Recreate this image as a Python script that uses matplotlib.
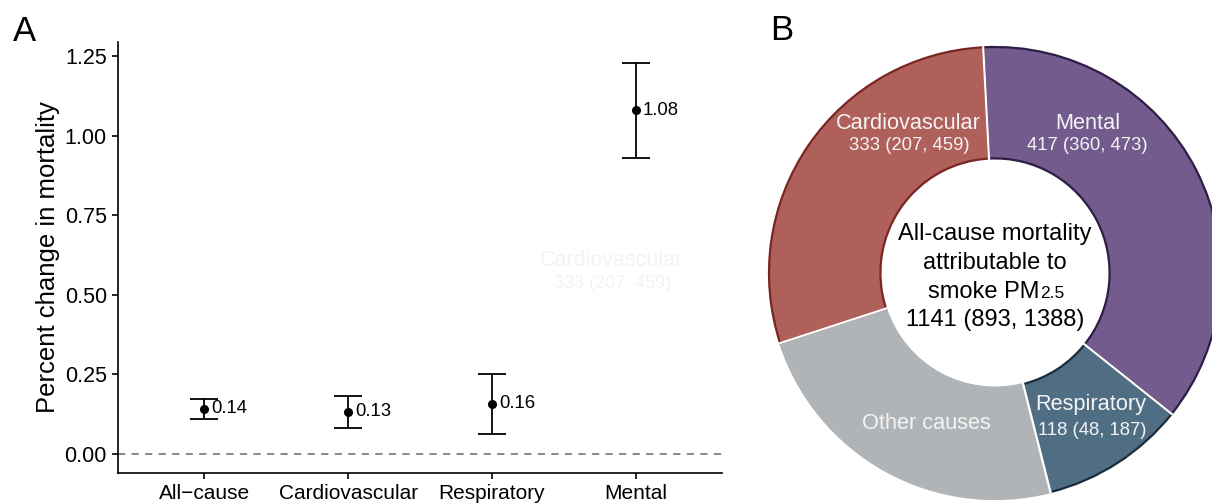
import numpy as np
import matplotlib
matplotlib.use("Agg")
import matplotlib.pyplot as plt

plt.rcParams['font.family'] = ['Liberation Sans', 'DejaVu Sans']

# panel A: percent change in mortality
causes = ['All\u2212cause', 'Cardiovascular', 'Respiratory', 'Mental']
est = np.array([0.142, 0.132, 0.157, 1.079])
lo = np.array([0.109, 0.080, 0.064, 0.931])
hi = np.array([0.171, 0.181, 0.251, 1.229])

# panel B: attributable deaths
slice_names = ['Mental', 'Respiratory', 'Other causes', 'Cardiovascular']
slice_vals = [417, 118, 273, 333]
slice_ci = ['417 (360, 473)', '118 (48, 187)', '', '333 (207, 459)']
total_label = '1141 (893, 1388)'

fig = plt.figure(figsize=(12.12, 5.04), dpi=100)

# ---- A
ax = fig.add_axes([118 / 1212, 31 / 504, 604 / 1212, 431 / 504])
xs = np.arange(1, len(causes) + 1)
ax.axhline(0, color='#808080', lw=1.3, ls=(0, (4, 3.5)), zorder=1)
ax.errorbar(xs, est, yerr=[est - lo, hi - est], fmt='o', color='black',
            ms=5.5, capsize=10, elinewidth=1.3, capthick=1.3, zorder=3)
for x, v in zip(xs, est):
    ax.text(x + 0.05, v, f'{v:.2f}', ha='left', va='center', fontsize=13.3)
ax.set_xlim(0.4, 4.6)
ax.set_ylim(-0.06, 1.294)
ax.set_xticks(xs)
ax.set_xticklabels(causes, fontsize=15)
ax.set_yticks([0, 0.25, 0.5, 0.75, 1.0, 1.25])
ax.set_yticklabels([f'{t:.2f}' for t in [0, 0.25, 0.5, 0.75, 1.0, 1.25]], fontsize=15.5)
ax.set_ylabel('Percent change in mortality', fontsize=18.5, labelpad=3)
ax.spines['top'].set_visible(False)
ax.spines['right'].set_visible(False)
for s in ['left', 'bottom']:
    ax.spines[s].set_linewidth(1.2)
ax.tick_params(length=4, width=1.2, pad=4)
fig.text(13 / 1212, 1 - 41 / 504, 'A', fontsize=25, va='baseline', ha='left')

# faint ghost label left over in the original figure
fig.text(612 / 1212, 1 - 260 / 504, 'Cardiovascular', fontsize=15.5, color='#f3f3f3',
         ha='center', va='center')
fig.text(613 / 1212, 1 - 283 / 504, '333 (207, 459)', fontsize=13, color='#f3f3f3',
         ha='center', va='center')

# ---- B
ax2 = fig.add_axes([765 / 1212, 1 / 504, 460 / 1212, 460 / 504])
face = ['#735B8D', '#4F6E84', '#B1B4B7', '#B0605A']
edge = ['#2E1D45', '#1B2D3C', '#B1B4B7', '#7B2522']
start = 93
wedges, _ = ax2.pie(slice_vals, startangle=start, counterclock=False, colors=face,
                    radius=1, wedgeprops=dict(width=0.493, linewidth=1.6))
for w, ec in zip(wedges, edge):
    w.set_edgecolor(ec)
# white separators between slices
bounds = start - 360 * np.cumsum([0] + slice_vals[:-1]) / np.sum(slice_vals)
for a in bounds:
    r = np.array([0.5, 1.005])
    ax2.plot(r * np.cos(np.radians(a)), r * np.sin(np.radians(a)), color='white', lw=1.6,
             solid_capstyle='butt', zorder=5)
lim = 230 / 226
ax2.set_xlim(-lim, lim)
ax2.set_ylim(-lim, lim)
ax2.set_aspect('equal')
ax2.axis('off')

label_pos = {'Mental': (0.41, 0.661, 0.407, 0.562),
             'Respiratory': (0.425, -0.584, 0.429, -0.695),
             'Other causes': (-0.305, -0.664, 0, 0),
             'Cardiovascular': (-0.385, 0.661, -0.381, 0.562)}
for name, ci in zip(slice_names, slice_ci):
    mx, my, sx, sy = label_pos[name]
    ax2.text(mx, my, name, ha='center', va='center', fontsize=15.7, color='#f4f4f4', zorder=6)
    if ci:
        ax2.text(sx, sy, ci, ha='center', va='center', fontsize=13.3, color='#f4f4f4', zorder=6)

ax2.text(0, 0.173, 'All-cause mortality', ha='center', va='center', fontsize=17)
ax2.text(0, 0.044, 'attributable to', ha='center', va='center', fontsize=17)
t = ax2.text(-0.05, -0.084, 'smoke PM', ha='center', va='center', fontsize=17)
ax2.annotate('2.5', xy=(1, 0), xycoords=t, xytext=(0.5, 1.3), textcoords='offset points',
             ha='left', va='bottom', fontsize=12.5)
ax2.text(0, -0.208, total_label, ha='center', va='center', fontsize=17)

fig.text(770 / 1212, 1 - 40 / 504, 'B', fontsize=25, va='baseline', ha='left')

fig.savefig('out.png', dpi=100)
